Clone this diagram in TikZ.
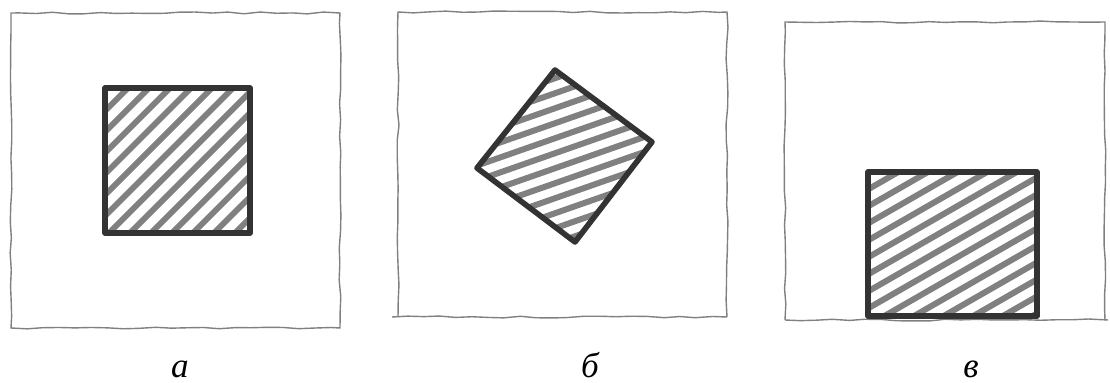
\documentclass[tikz,border=0pt]{standalone}
\usepackage{fontspec}
\setmainfont{Liberation Serif}
\usetikzlibrary{decorations.pathmorphing}

\begin{document}
\begin{tikzpicture}[
	x=0.25mm, y=-0.25mm,
	frame/.style = {draw=black!50, line width=0.35mm, decorate, decoration={random steps, segment length=4mm, amplitude=0.25mm}},
	box/.style   = {draw=black!80, line width=1.4mm, line join=round},
	hatch/.style = {draw=black!50, line width=1.5mm, line cap=round},
	lab/.style   = {font=\fontsize{25}{30}\selectfont\itshape, inner sep=0pt, text depth=0pt, anchor=base}
	]
	\pgfmathsetseed{11}
	\useasboundingbox (0,0) rectangle (1110,383);
	
	% ===== ===== ===== ===== =====
	
	% Frame a
	\draw[frame] (11,13) rectangle (340,328);
	\begin{scope}
		\clip (105,88) rectangle (250,233);
		\foreach \s in {0,...,15}
			\draw[hatch] (-50+\s*21,245) -- ++(190,-190);
	\end{scope}
	\draw[box] (105,88) rectangle (250,233);
	\node[lab]	(la)	at	(180,377)	{а};
	
	
	
	% ===== ===== ===== ===== =====
	
	% Frame b
	\draw[frame] (398,317) -- (398,12) -- (727,12) -- (727,317);
	\draw[frame] (392,317) -- (727,317);
	\begin{scope}
		\clip (555,70) -- (652,142) -- (575,242) -- (477,168) -- cycle;
		\foreach \s in {0,...,13}
			\draw[hatch] (450,100+\s*15) -- ++(220,-77);
	\end{scope}
	\draw[box] (555,70) -- (652,142) -- (575,242) -- (477,168) -- cycle;
	\node[lab]	(lb)	at	(590,377)	{б};
	
	
	
	% ===== ===== ===== ===== =====
	
	% Frame c
	\draw[frame] (785,320) -- (785,22) -- (1105,22) -- (1105,320);
	\draw[frame] (785,320) -- (1108,320);
	\begin{scope}
		\clip (868,172) rectangle (1037,316);
		\foreach \s in {0,...,14}
			\draw[hatch] (860,177+\s*17) -- ++(230,-132);
	\end{scope}
	\draw[box] (868,172) rectangle (1037,316);
	\node[lab]	(lc)	at	(971,377)	{в};
	
\end{tikzpicture}
\end{document}
